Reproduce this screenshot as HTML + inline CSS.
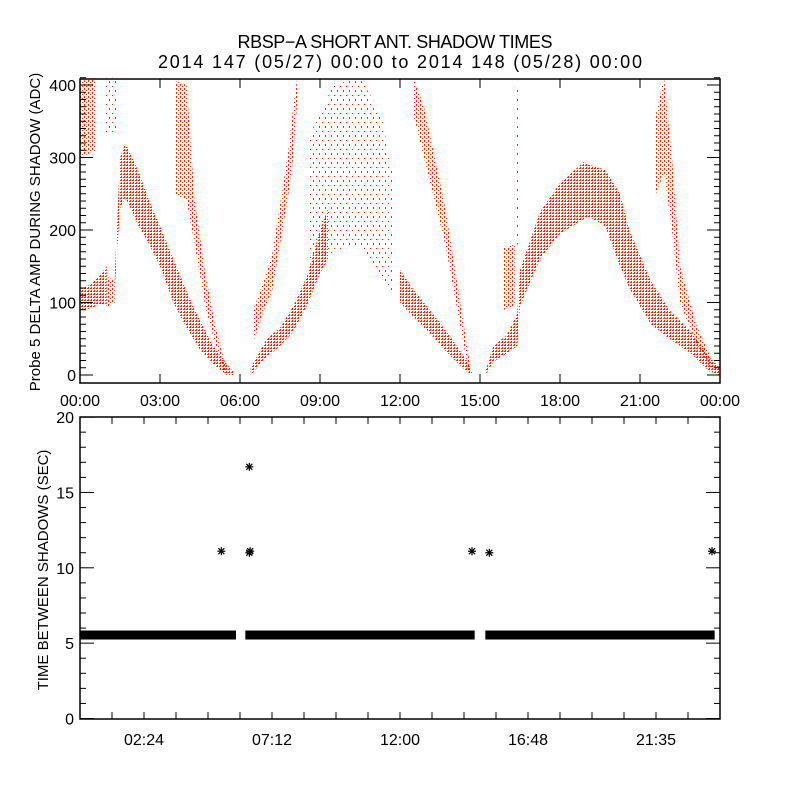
<!DOCTYPE html>
<html><head><meta charset="utf-8"><style>
html,body{margin:0;padding:0;background:#fff;}
svg{display:block;font-family:"Liberation Sans",sans-serif;}
</style></head><body>
<svg id="chart" width="800" height="800" viewBox="0 0 800 800">
<defs>
<pattern id="dense" width="3" height="3" patternUnits="userSpaceOnUse"><rect x="0" y="0" width="2" height="1" fill="#ff2200"/><rect x="1" y="2" width="1" height="1" fill="#ff2200"/></pattern>
<pattern id="medium" width="4" height="4" patternUnits="userSpaceOnUse"><rect x="0" y="0" width="1" height="2" fill="#ff2200"/><rect x="2" y="2" width="1" height="1" fill="#ff2200"/></pattern>
<pattern id="sparse" width="6" height="9" patternUnits="userSpaceOnUse"><rect x="1" y="0" width="1" height="2" fill="#ff2200"/><rect x="4" y="5" width="1" height="1" fill="#ff2200"/></pattern>
</defs>
<text x="395" y="48" font-size="18" text-anchor="middle" textLength="315">RBSP−A SHORT ANT. SHADOW TIMES</text>
<text x="400" y="68" font-size="18" text-anchor="middle" textLength="484">2014 147 (05/27) 00:00 to 2014 148 (05/28) 00:00</text>
<g id="top"></g>
<g id="bot"></g>
</svg>
<script>
// ---------- Top panel data: bands [hour, low, high] ----------
const bandA = [[0,88,118],[0.4,92,125],[0.8,98,140],[1.0,95,150]];
const bandA2 = [[1.05,95,135],[1.3,100,130]];
const bandB = [[0,300,405],[0.6,310,410]];
const bandB2 = [[0.9,335,410],[1.4,335,410]];
const bandC = [[1.3,120,135],[1.5,230,300],[1.7,245,320],[2.2,205,280],[2.6,180,240],[3.0,150,205],[3.5,100,160],[4.0,65,115],[4.5,35,75],[5.0,15,40],[5.5,0,15],[5.75,0,5]];
const bandD = [[3.6,250,405],[4.0,240,400],[4.3,180,240],[4.7,95,140],[5.06,45,70],[5.45,0,15]];
const bandE = [[6.4,0,10],[7.0,25,50],[7.5,40,65],[8.0,60,95],[8.5,95,135],[9.0,140,200],[9.3,160,230]];
const bandF = [[6.5,45,90],[6.9,90,130],[7.2,115,165],[7.5,180,235],[7.8,245,305],[8.0,300,370],[8.15,380,410]];
const bandM = [[8.6,150,330],[9.5,170,400],[10.5,180,410],[11.3,130,360],[11.7,110,280]];
const bandG = [[12.0,100,145],[12.5,80,118],[13.0,62,95],[13.5,42,72],[14.0,22,47],[14.5,5,20],[14.7,0,5]];
const bandH = [[12.5,360,410],[12.9,300,370],[13.3,240,300],[13.7,180,230],[14.0,120,160],[14.3,60,90],[14.6,0,20]];
const bandI = [[15.2,0,5],[15.5,18,40],[16.0,30,55],[16.4,40,85],[16.5,95,145],[17.25,160,225],[18.0,195,265],[18.9,215,294],[19.1,218,290],[19.7,205,283],[20.25,150,250],[20.6,120,200],[21.4,70,130],[22.1,50,90],[22.9,30,60],[23.6,5,25],[24,0,10]];
const bandI2 = [[15.9,90,175],[16.3,95,180]];
const bandS = [[16.3,180,400],[16.45,180,400]];
const bandJ = [[21.6,250,360],[21.9,280,410],[22.2,200,300],[22.5,100,150],[23.1,45,70],[23.7,5,20]];
const denseBands = [bandA, bandC, bandE, bandG, bandI];
const mediumBands = [bandA2, bandB, bandD, bandF, bandH, bandI2, bandJ];
const sparseBands = [bandB2, bandM, bandS];
const topXTicks = ["00:00","03:00","06:00","09:00","12:00","15:00","18:00","21:00","00:00"];
const topYTicks = [0,100,200,300,400];
// ---------- Bottom panel data ----------
const rowSegments = [[0,5.85],[6.2,14.8],[15.2,23.8]];
const rowValue = [5.54];
const isoTimes = [5.3,6.35,6.38,6.35,14.7,15.35,23.7];
const isoValues = [11.1,16.7,11.1,11.0,11.1,11.0,11.1];
const botXLabels = ["02:24","07:12","12:00","16:48","21:35"];
const botXLabelHours = [2.4,7.2,12.0,16.8,21.6];
const botYTicks = [0,5,10,15,20];

const NS="http://www.w3.org/2000/svg";
function mk(tag,attrs,parent){const e=document.createElementNS(NS,tag);for(const k in attrs)e.setAttribute(k,attrs[k]);parent.appendChild(e);return e;}
const L=80,R=720;
const xH=h=>L+h*(R-L)/24;
// top
const T={top:79,bot:383};
const yT=v=>375-v*0.725;
const gT=document.getElementById('top');
function drawBand(b,fill,name){
  const up=b.map(p=>xH(p[0]).toFixed(1)+","+yT(p[2]).toFixed(1));
  const dn=b.slice().reverse().map(p=>xH(p[0]).toFixed(1)+","+yT(p[1]).toFixed(1));
  const el=mk('polygon',{points:up.concat(dn).join(" "),fill:fill},gT);
  
  
}
denseBands.forEach((b,i)=>drawBand(b,"url(#dense)","amp-cluster-dense-"+i));
mediumBands.forEach((b,i)=>drawBand(b,"url(#medium)","amp-cluster-medium-"+i));
sparseBands.forEach((b,i)=>drawBand(b,"url(#sparse)","amp-cluster-sparse-"+i));
const frT=mk('rect',{x:L,y:T.top,width:R-L,height:T.bot-T.top,fill:"none",stroke:"#000","stroke-width":1.5},gT);


for(let v=0;v<=410;v+=10){
  const y=yT(v);const maj=v%100===0;const len=maj?13:6;
  mk('line',{x1:L,x2:L+len,y1:y,y2:y,stroke:"#000"},gT);
  mk('line',{x1:R,x2:R-len,y1:y,y2:y,stroke:"#000"},gT);
}
topYTicks.forEach(v=>{
  const t=mk('text',{x:L-4,y:yT(v)+6,"font-size":16,"text-anchor":"end"},gT);t.textContent=v;
  
  
});
topXTicks.forEach((s,i)=>{
  const x=xH(i*3);
  mk('line',{x1:x,x2:x,y1:T.bot,y2:T.bot-9,stroke:"#000"},gT);
  mk('line',{x1:x,x2:x,y1:T.top,y2:T.top+9,stroke:"#000"},gT);
  const t=mk('text',{x:x,y:406,"font-size":16,"text-anchor":"middle"},gT);t.textContent=s;
  
  
});
const ytT=mk('text',{x:0,y:0,"font-size":15,"text-anchor":"middle",transform:"translate(40,232) rotate(-90)"},gT);
ytT.textContent="Probe 5 DELTA AMP DURING SHADOW (ADC)";


// bottom
const B={top:417,bot:719};
const yB=v=>718.5-v*15.07;
const gB=document.getElementById('bot');
rowSegments.forEach((s,i)=>{
  const r=mk('rect',{x:xH(s[0]),y:yB(rowValue[0])-4.5,width:xH(s[1])-xH(s[0]),height:9,fill:"#000"},gB);
  
  
});
isoTimes.forEach((t,i)=>{
  const cx=xH(t),cy=yB(isoValues[i]);
  const g=mk('g',{stroke:"#000","stroke-width":1.2},gB);
  
  
  mk('line',{x1:cx-4,x2:cx+4,y1:cy,y2:cy},g);
  mk('line',{x1:cx,x2:cx,y1:cy-4,y2:cy+4},g);
  mk('line',{x1:cx-3,x2:cx+3,y1:cy-3,y2:cy+3},g);
  mk('line',{x1:cx-3,x2:cx+3,y1:cy+3,y2:cy-3},g);
});
const frB=mk('rect',{x:L,y:B.top,width:R-L,height:B.bot-B.top,fill:"none",stroke:"#000","stroke-width":1.5},gB);


for(let v=0;v<=20;v++){
  const y=yB(v);const maj=v%5===0;const len=maj?14:6;
  mk('line',{x1:L,x2:L+len,y1:y,y2:y,stroke:"#000"},gB);
  mk('line',{x1:R,x2:R-len,y1:y,y2:y,stroke:"#000"},gB);
}
botYTicks.forEach(v=>{
  const t=mk('text',{x:L-6,y:yB(v)+6,"font-size":16,"text-anchor":"end"},gB);t.textContent=v;
  
  
});
for(let i=0;i<=20;i++){const px=xH(i*1.2);
  mk('line',{x1:px,x2:px,y1:B.bot,y2:B.bot-7,stroke:"#000"},gB);
  mk('line',{x1:px,x2:px,y1:B.top,y2:B.top+7,stroke:"#000"},gB);}
botXLabels.forEach((s,i)=>{
  const t=mk('text',{x:xH(botXLabelHours[i]),y:745,"font-size":16,"text-anchor":"middle"},gB);t.textContent=s;
  
  
});
const ytB=mk('text',{x:0,y:0,"font-size":15,"text-anchor":"middle",transform:"translate(48,570) rotate(-90)"},gB);
ytB.textContent="TIME BETWEEN SHADOWS (SEC)";


</script>
</body></html>
